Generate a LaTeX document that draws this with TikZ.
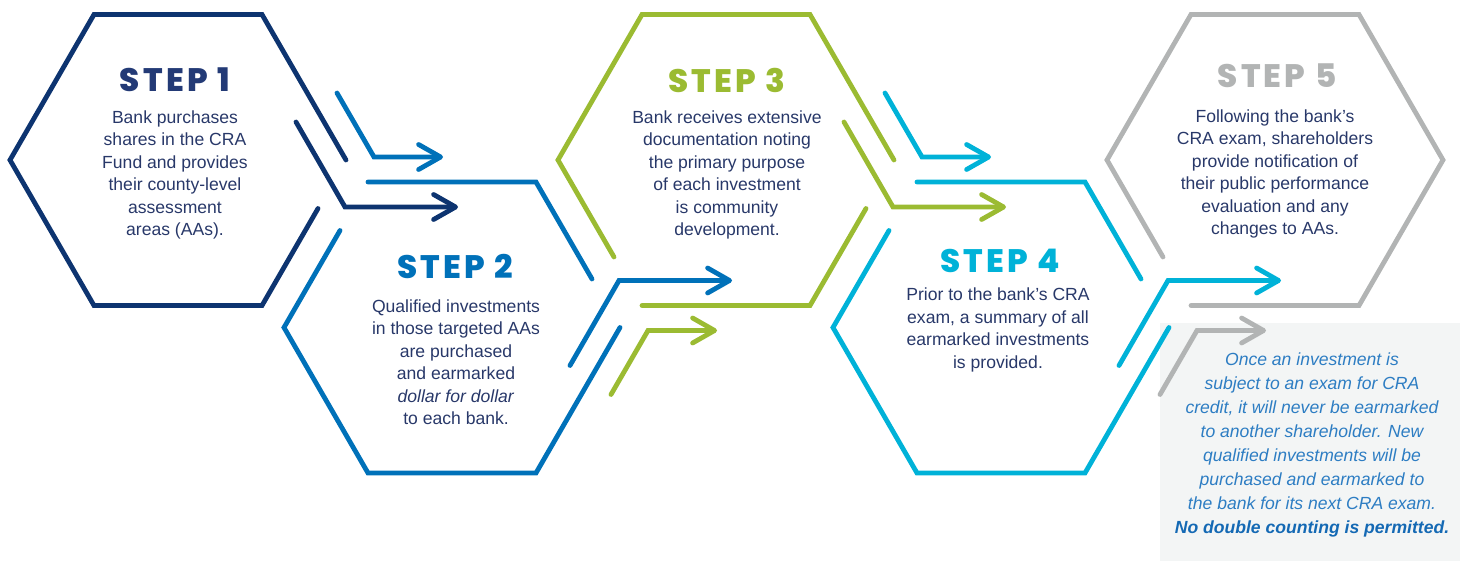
\documentclass[tikz,border=0pt]{standalone}
\usepackage{fontspec}
\setmainfont{Liberation Sans}
\newfontfamily\stepfont{Poppins}[LetterSpace=10, BoldFont=* ExtraBold]
\usetikzlibrary{arrows.meta}

\definecolor{stepnavy}{RGB}{13,52,112}
\definecolor{titlenavy}{RGB}{35,58,118}
\definecolor{stepblue}{RGB}{0,113,185}
\definecolor{stepgreen}{RGB}{155,187,50}
\definecolor{stepcyan}{RGB}{0,178,216}
\definecolor{stepgray}{RGB}{178,180,180}
\definecolor{bodytext}{RGB}{40,56,105}
\definecolor{notebg}{RGB}{243,245,245}
\definecolor{notetext}{RGB}{45,125,195}
\definecolor{notebold}{RGB}{20,105,180}

\begin{document}
\begin{tikzpicture}[x=0.02cm, y=-0.02cm,
  hexline/.style={line width=0.096cm, line cap=round, line join=miter},
  flow/.style={hexline, -{Straight Barb[length=0.44cm, width=0.5cm, round]}},
  steptitle/.style={font=\stepfont\bfseries\fontsize{18.5}{20}\selectfont},
  steptext/.style={text=bodytext, align=center, font=\fontsize{10}{12.8}\selectfont},
  notetxt/.style={text=notetext, align=center, font=\itshape\fontsize{10}{13.6}\selectfont}]

  \useasboundingbox (0,0) rectangle (1465,561);

  % --- note box behind the last arrow ---
  \fill[notebg] (1160,323) rectangle (1460,561);

  % --- Step 1 (top row) ---
  \begin{scope}[shift={(178,160)}]
    \draw[hexline, stepnavy] (140,48.5) -- (84,145.5) -- (-84,145.5) -- (-168,0)
      -- (-84,-145.5) -- (84,-145.5) -- (168,0);
    \draw[flow, stepnavy] (118,-38) -- (167,47) -- (280,47);
    \draw[flow, stepblue] (159,-67) -- (196,-3) -- (265,-3);
  \end{scope}

  % --- Step 2 (bottom row) ---
  \begin{scope}[shift={(452,327.5)}]
    \draw[hexline, stepblue] (-112,-97) -- (-168,0) -- (-84,145.5) -- (84,145.5) -- (168,0);
    \draw[hexline, stepblue] (-84,-145.5) -- (84,-145.5) -- (140,-48.5);
    \draw[flow, stepblue] (118,38) -- (167,-47) -- (280,-47);
    \draw[flow, stepgreen] (159,67) -- (196,3) -- (265,3);
  \end{scope}

  % --- Step 3 (top row) ---
  \begin{scope}[shift={(726,160)}]
    \draw[hexline, stepgreen] (-112,97) -- (-168,0) -- (-84,-145.5) -- (84,-145.5) -- (168,0);
    \draw[hexline, stepgreen] (140,48.5) -- (84,145.5) -- (-84,145.5);
    \draw[flow, stepgreen] (118,-38) -- (167,47) -- (280,47);
    \draw[flow, stepcyan] (159,-67) -- (196,-3) -- (265,-3);
  \end{scope}

  % --- Step 4 (bottom row) ---
  \begin{scope}[shift={(1001,327.5)}]
    \draw[hexline, stepcyan] (-112,-97) -- (-168,0) -- (-84,145.5) -- (84,145.5) -- (168,0);
    \draw[hexline, stepcyan] (-84,-145.5) -- (84,-145.5) -- (140,-48.5);
    \draw[flow, stepcyan] (118,38) -- (167,-47) -- (280,-47);
    \draw[flow, stepgray] (159,67) -- (196,3) -- (265,3);
  \end{scope}

  % --- Step 5 (top row) ---
  \begin{scope}[shift={(1275,160)}]
    \draw[hexline, stepgray] (-112,97) -- (-168,0) -- (-84,-145.5) -- (84,-145.5)
      -- (168,0) -- (84,145.5) -- (-84,145.5);
  \end{scope}

  % --- titles and texts ---
  \node[steptitle, text=titlenavy] (title1) at (175,80) {STEP 1};
  \node[steptext] (text1) at (175,175) {Bank purchases\\shares in the CRA\\Fund and provides\\their county-level\\assessment\\areas (AAs).};

  \node[steptitle, text=stepblue] (title2) at (455,266) {STEP 2};
  \node[steptext] (text2) at (456,362) {Qualified investments\\in those targeted AAs\\are purchased\\and earmarked\\\textit{dollar for dollar}\\to each bank.};

  \node[steptitle, text=stepgreen] (title3) at (727,80) {STEP 3};
  \node[steptext] (text3) at (727,175) {Bank receives extensive\\documentation noting\\the primary purpose\\of each investment\\is community\\development.};

  \node[steptitle, text=stepcyan] (title4) at (1000,261) {STEP 4};
  \node[steptext] (text4) at (998,330) {Prior to the bank’s CRA\\exam, a summary of all\\earmarked investments\\is provided.};

  \node[steptitle, text=stepgray] (title5) at (1277,76) {STEP 5};
  \node[steptext] (text5) at (1275,174) {Following the bank’s\\CRA exam, shareholders\\provide notification of\\their public performance\\evaluation and any\\changes to AAs.};

  \node[notetxt] (note) at (1312,445) {Once an investment is\\subject to an exam for CRA\\credit, it will never be earmarked\\to another shareholder. New\\qualified investments will be\\purchased and earmarked to\\the bank for its next CRA exam.\\\textcolor{notebold}{\bfseries No double counting is permitted.}};

\end{tikzpicture}
\end{document}
